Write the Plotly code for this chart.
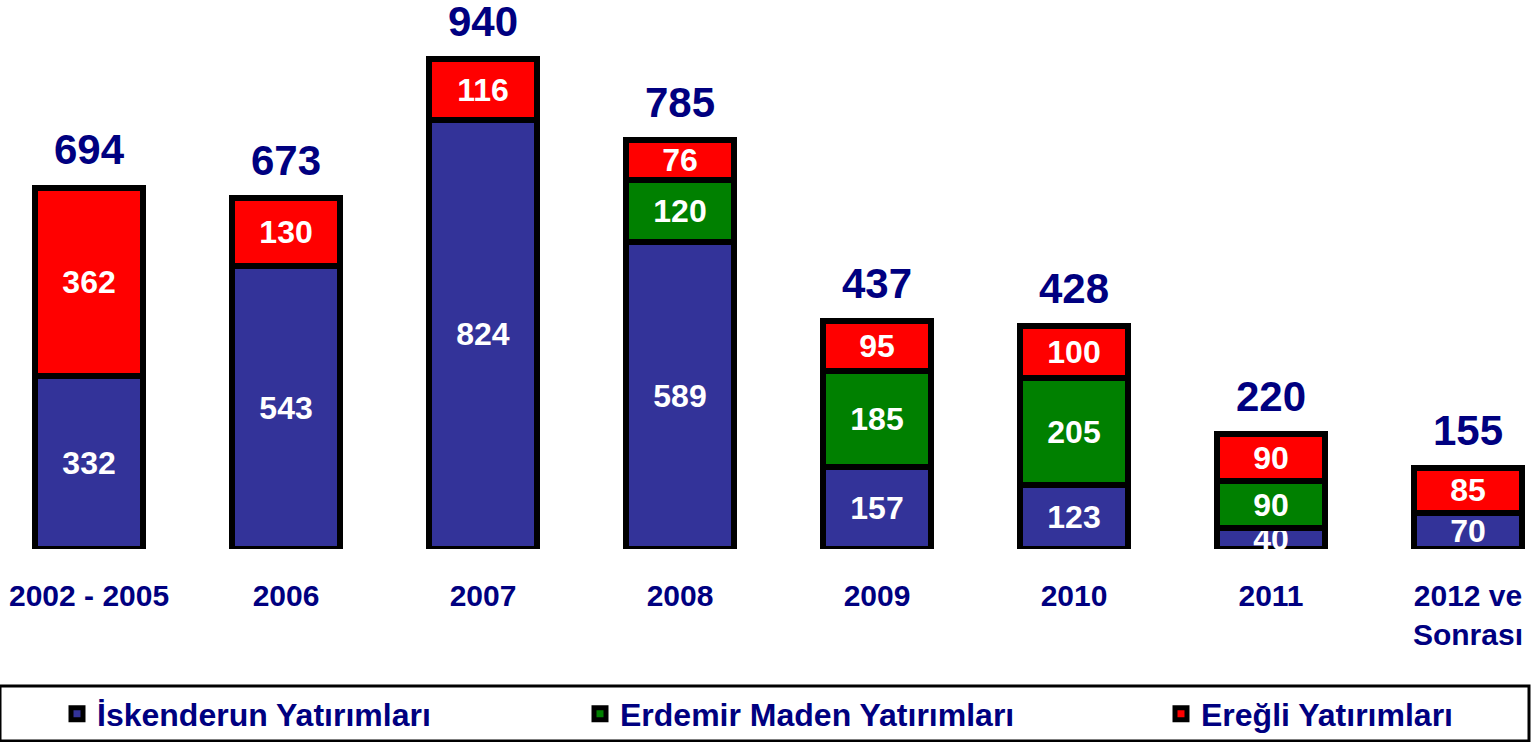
import plotly.graph_objects as go

categories = ["2002 - 2005", "2006", "2007", "2008", "2009", "2010", "2011", "2012 ve<br>Sonrası"]
iskenderun = [332, 543, 824, 589, 157, 123, 40, 70]
maden = [None, None, None, 120, 185, 205, 90, None]
eregli = [362, 130, 116, 76, 95, 100, 90, 85]
totals = [694, 673, 940, 785, 437, 428, 220, 155]

series_names = ["İskenderun Yatırımları", "Erdemir Maden Yatırımları", "Ereğli Yatırımları"]
colors = ["#333399", "#008000", "#FF0000"]
NAVY = "#000080"
FONT = "Liberation Sans, Arial, sans-serif"

W, H = 1532, 742
PLOT_BOTTOM = 549  # px


def px_x(p):
    return p / W


def px_y(p):
    return -(p - PLOT_BOTTOM) / PLOT_BOTTOM


legend_ids = ["legend", "legend2", "legend3"]
legend_left_px = [57, 580, 1161]

fig = go.Figure()
for name, vals, col, lid in zip(series_names, [iskenderun, maden, eregli], colors, legend_ids):
    fig.add_trace(go.Bar(
        x=categories, y=vals, name=name, legend=lid,
        marker=dict(color=col, line=dict(color="black", width=6)),
        width=0.55,
        text=[("<b>%d</b>" % v) if v is not None else "" for v in vals],
        textposition="inside", insidetextanchor="middle",
        constraintext="none", textangle=0,
        textfont=dict(color="white", size=32, family=FONT),
        hoverinfo="skip",
    ))

for i, t in enumerate(totals):
    fig.add_annotation(x=i, y=t, xref="x", yref="y", text="<b>%d</b>" % t, showarrow=False,
                       yanchor="middle", yshift=38,
                       font=dict(color=NAVY, size=42, family=FONT))

# legend frame
fig.add_shape(type="rect", xref="paper", yref="paper",
              x0=px_x(0), x1=px_x(1529), y0=px_y(741), y1=px_y(686),
              line=dict(color="black", width=3), fillcolor="rgba(0,0,0,0)")

legend_common = dict(orientation="h", yanchor="middle", y=px_y(714), xanchor="left",
                     borderwidth=0, bgcolor="rgba(0,0,0,0)",
                     font=dict(color=NAVY, size=32, family=FONT, weight="bold"))

fig.update_layout(
    barmode="stack",
    width=W, height=H,
    margin=dict(l=0, r=0, t=0, b=H - PLOT_BOTTOM, autoexpand=False),
    paper_bgcolor="white", plot_bgcolor="white",
    xaxis=dict(range=[-0.452, 7.325], showgrid=False, zeroline=False, showline=False,
               ticks="", tickfont=dict(color=NAVY, size=30, family=FONT, weight="bold"),
               ticklabelstandoff=26),
    yaxis=dict(range=[0, 1054], visible=False),
    legend=dict(x=px_x(legend_left_px[0]), **legend_common),
    legend2=dict(x=px_x(legend_left_px[1]), **legend_common),
    legend3=dict(x=px_x(legend_left_px[2]), **legend_common),
    showlegend=True,
)

fig.write_html("out.html", config={"displayModeBar": False},
               post_script="document.body.style.margin='0';document.body.style.overflow='hidden';")
